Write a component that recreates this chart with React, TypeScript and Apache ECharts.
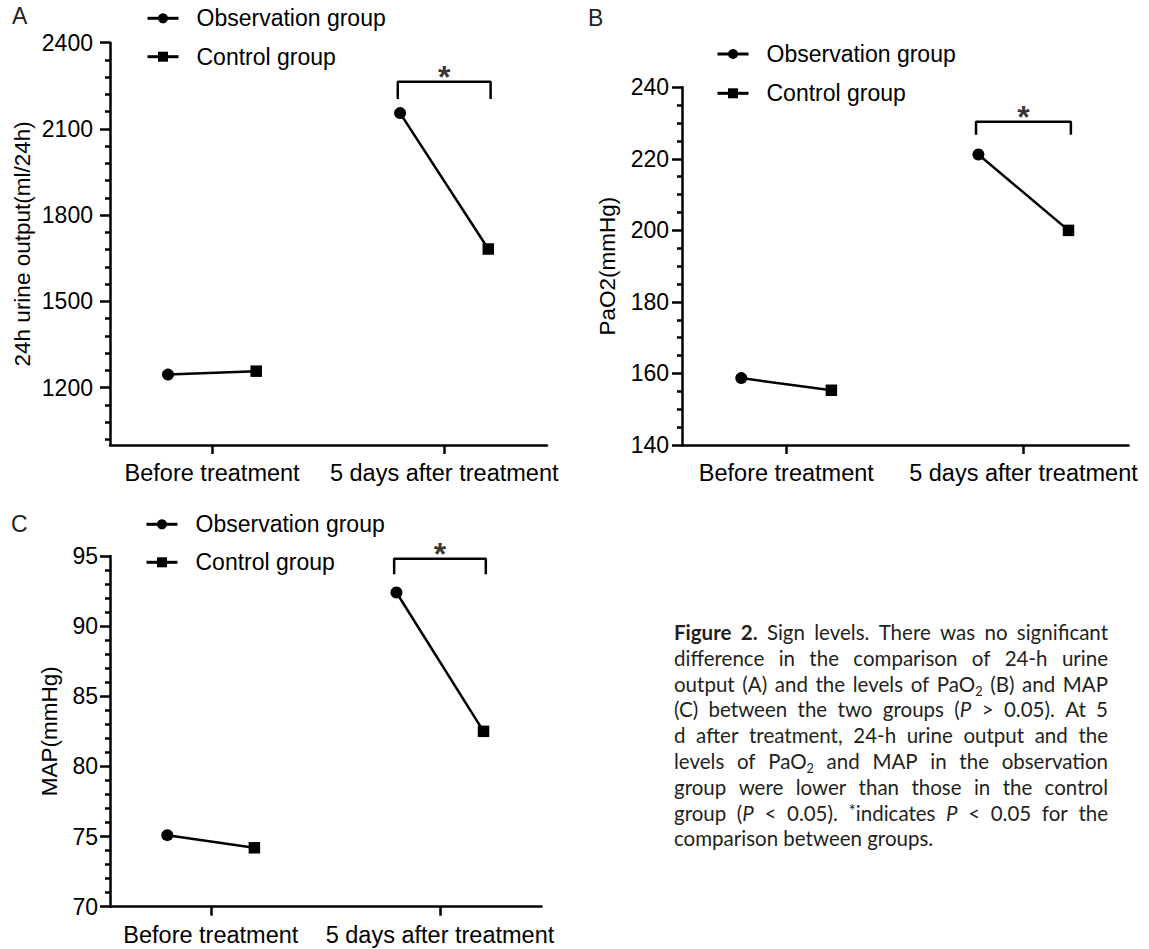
import React, { useEffect, useRef } from 'react';
import * as echarts from 'echarts';

// ---------- data ----------
const categories = ['Before treatment', '5 days after treatment'];
const seriesNames = ['Observation group', 'Control group'];

// Panel A: 24h urine output (ml/24h)
const urineObservation = [1245, 2155];
const urineControl = [1257, 1682];
const urineTicks = [1200, 1500, 1800, 2100, 2400];
const urineRange = [1000, 2400];
const urineMinorStep = 60;
const urineBracket = [2204, 2264];

// Panel B: PaO2 (mmHg)
const oxygenObservation = [158.7, 221.2];
const oxygenControl = [155.3, 200];
const oxygenTicks = [140, 160, 180, 200, 220, 240];
const oxygenRange = [140, 240];
const oxygenMinorStep = 5;
const oxygenBracket = [226.7, 230.4];

// Panel C: MAP (mmHg)
const mapObservation = [75.1, 92.4];
const mapControl = [74.2, 82.5];
const mapTicks = [70, 75, 80, 85, 90, 95];
const mapRange = [70, 95];
const mapMinorStep = 1;
const mapBracket = [93.7, 94.8];

const captionLines = [
  '**Figure** **2.** Sign levels. There was no significant',
  'difference in the comparison of 24-h urine',
  'output (A) and the levels of PaO~2~ (B) and MAP',
  '(C) between the two groups (_P_ > 0.05). At 5',
  'd after treatment, 24-h urine output and the',
  'levels of PaO~2~ and MAP in the observation',
  'group were lower than those in the control',
  'group (_P_ < 0.05). ^*^indicates _P_ < 0.05 for the',
  'comparison between groups.',
];

// ---------- layout / style ----------
const FONT = '"Liberation Sans", Arial, sans-serif';
const CAP_FONT = 'Lato';
const CAP_FS = 20.5;
const CAP_LEFT = 674;
const CAP_WIDTH = 434;
const CAP_TOP = 632;
const CAP_LH = 25.8;
const X_MIN = -0.44;
const X_MAX = 1.443;
const OFFSET = 0.19;
const BRACKET_HALF = 0.2;
const LW = 2.5;

const panels = [
  {
    letter: 'A', letterPos: [12, 4],
    grid: { left: 110, top: 42.7, width: 437, height: 402.3 },
    legend: { left: 146, top: 6.8, gap: 15.4 },
    yName: '24h urine output(ml/24h)', nameGap: 76, labelMargin: 17,
    obs: urineObservation, ctrl: urineControl, ticks: urineTicks, range: urineRange,
    minorStep: urineMinorStep, bracket: urineBracket,
  },
  {
    letter: 'B', letterPos: [588, 6],
    grid: { left: 682, top: 87.3, width: 446.5, height: 357.7 },
    legend: { left: 716, top: 42.5, gap: 16.3 },
    yName: 'PaO2(mmHg)', nameGap: 63.5, labelMargin: 13,
    obs: oxygenObservation, ctrl: oxygenControl, ticks: oxygenTicks, range: oxygenRange,
    minorStep: oxygenMinorStep, bracket: oxygenBracket,
  },
  {
    letter: 'C', letterPos: [11, 512.7],
    grid: { left: 110, top: 556, width: 431.5, height: 350.7 },
    legend: { left: 145, top: 512.8, gap: 15 },
    yName: 'MAP(mmHg)', nameGap: 49, labelMargin: 12,
    obs: mapObservation, ctrl: mapControl, ticks: mapTicks, range: mapRange,
    minorStep: mapMinorStep, bracket: mapBracket,
  },
];

function minorValues(range: number[], step: number, majors: number[]) {
  const out: number[] = [];
  const top = range[1];
  for (let k = 0; ; k++) {
    const v = +(top - k * step).toFixed(6);
    if (v <= range[0]) break;
    if (!majors.some((m) => Math.abs(m - v) < 1e-6)) out.push(v);
  }
  return out;
}

type Seg = { text: string; kind: 'n' | 'b' | 'i' | 'sub' | 'sup' };
function parseWord(w: string): Seg[] {
  return w
    .split(/(\*\*[^*]+\*\*|_[^_]+_|~[^~]+~|\^[^^]+\^)/)
    .filter((s) => s.length)
    .map((s) => {
      if (s.startsWith('**') && s.endsWith('**') && s.length > 4) return { text: s.slice(2, -2), kind: 'b' as const };
      if (s.startsWith('_') && s.endsWith('_') && s.length > 2) return { text: s.slice(1, -1), kind: 'i' as const };
      if (s.startsWith('~') && s.endsWith('~') && s.length > 2) return { text: s.slice(1, -1), kind: 'sub' as const };
      if (s.startsWith('^') && s.endsWith('^') && s.length > 2) return { text: s.slice(1, -1), kind: 'sup' as const };
      return { text: s, kind: 'n' as const };
    });
}

function segFont(g: Seg) {
  return {
    size: g.kind === 'sub' ? CAP_FS * 0.62 : g.kind === 'sup' ? CAP_FS * 0.85 : CAP_FS,
    weight: g.kind === 'b' ? 'bold' : 'normal',
    style: g.kind === 'i' ? 'italic' : 'normal',
  };
}

function buildCaption(): any[] {
  const canvas = document.createElement('canvas');
  const ctx = canvas.getContext('2d')!;
  const measure = (g: Seg) => {
    const f = segFont(g);
    ctx.font = `${f.style} ${f.weight} ${f.size}px ${CAP_FONT}`;
    return ctx.measureText(g.text).width;
  };
  ctx.font = `normal normal ${CAP_FS}px ${CAP_FONT}`;
  const spaceW = ctx.measureText(' ').width;
  const els: any[] = [];
  captionLines.forEach((line, li) => {
    const words = line.split(' ').map(parseWord);
    const widths = words.map((segs) => segs.reduce((s, g) => s + measure(g), 0));
    const total = widths.reduce((a, b) => a + b, 0);
    const last = li === captionLines.length - 1;
    const gap = last ? spaceW : Math.max(2, (CAP_WIDTH - total) / (words.length - 1));
    let x = CAP_LEFT;
    const y = CAP_TOP + li * CAP_LH;
    words.forEach((segs, wi) => {
      let sx = x;
      segs.forEach((g) => {
        const f = segFont(g);
        const dy = g.kind === 'sub' ? CAP_FS * 0.35 : g.kind === 'sup' ? -CAP_FS * 0.12 : 0;
        els.push({
          type: 'text',
          x: sx,
          y: y + dy,
          silent: true,
          style: {
            text: g.text,
            fontSize: f.size,
            fontWeight: f.weight,
            fontStyle: f.style,
            fontFamily: CAP_FONT,
            fill: '#231f20',
            align: 'left',
            verticalAlign: 'middle',
            textAlign: 'left',
            textVerticalAlign: 'middle',
          },
        });
        sx += measure(g);
      });
      x += widths[wi] + gap;
    });
  });
  return els;
}

function buildOption(): any {
  const grid: any[] = [];
  const xAxis: any[] = [];
  const yAxis: any[] = [];
  const legend: any[] = [];
  const series: any[] = [];
  const graphic: any[] = [];
  const axisLineStyle = { color: '#000', width: LW };

  panels.forEach((p, i) => {
    grid.push({ ...p.grid, containLabel: false, outerBoundsMode: 'none' });
    xAxis.push({
      type: 'value', gridIndex: i, min: X_MIN, max: X_MAX,
      splitLine: { show: false },
      axisLine: { show: true, onZero: false, lineStyle: axisLineStyle },
      axisTick: { show: true, customValues: [0, 1], length: 9, lineStyle: axisLineStyle },
      axisLabel: {
        customValues: [0, 1],
        formatter: (v: number) => categories[Math.round(v)],
        fontSize: 23.5, color: '#000', fontFamily: FONT, margin: 16,
      },
    });
    const minors = minorValues(p.range, p.minorStep, p.ticks);
    yAxis.push({
      type: 'value', gridIndex: i, position: 'left', min: p.range[0], max: p.range[1],
      name: p.yName, nameLocation: 'middle', nameGap: p.nameGap,
      nameTextStyle: { fontSize: 22.5, color: '#000', fontFamily: FONT },
      splitLine: { show: false },
      axisLine: { show: true, onZero: false, lineStyle: axisLineStyle },
      axisTick: { show: true, customValues: p.ticks, length: 10, lineStyle: axisLineStyle },
      axisLabel: {
        customValues: p.ticks, fontSize: 23, color: '#000', fontFamily: FONT, margin: p.labelMargin,
        formatter: (v: number) => String(v),
      },
    });
    yAxis.push({
      type: 'value', gridIndex: i, position: 'left', offset: 0, min: p.range[0], max: p.range[1],
      splitLine: { show: false },
      axisLine: { show: false, onZero: false },
      axisTick: { show: true, customValues: minors, length: 5, lineStyle: axisLineStyle },
      axisLabel: { show: false, customValues: minors },
    });
    legend.push({
      data: seriesNames, orient: 'vertical', left: p.legend.left, top: p.legend.top,
      itemGap: p.legend.gap, itemWidth: 31, itemHeight: 12.5, padding: 0,
      selectedMode: false,
      textStyle: { fontSize: 23, color: '#000', fontFamily: FONT, padding: [0, 0, 0, 13] },
      lineStyle: { color: '#000', width: LW + 0.5, opacity: 1 },
      itemStyle: { color: '#000' },
    });
    const xi = i, yi = 2 * i;
    categories.forEach((_, t) => {
      series.push({
        type: 'line', xAxisIndex: xi, yAxisIndex: yi, silent: true, symbol: 'none', z: 2,
        data: [[t - OFFSET, p.obs[t]], [t + OFFSET, p.ctrl[t]]],
        lineStyle: { color: '#000', width: LW },
      });
    });
    series.push({
      name: seriesNames[0], type: 'line', xAxisIndex: xi, yAxisIndex: yi, z: 3,
      data: p.obs.map((v, t) => [t - OFFSET, v]),
      symbol: 'circle', symbolSize: 12, showSymbol: true,
      itemStyle: { color: '#000' }, lineStyle: { opacity: 0, width: 0 },
    });
    series.push({
      name: seriesNames[1], type: 'line', xAxisIndex: xi, yAxisIndex: yi, z: 3,
      data: p.ctrl.map((v, t) => [t + OFFSET, v]),
      symbol: 'rect', symbolSize: 11.5, showSymbol: true,
      itemStyle: { color: '#000' }, lineStyle: { opacity: 0, width: 0 },
    });
    const [bot, top] = p.bracket;
    series.push({
      type: 'line', xAxisIndex: xi, yAxisIndex: yi, silent: true, symbol: 'none',
      data: [[1 - BRACKET_HALF, bot], [1 - BRACKET_HALF, top], [1 + BRACKET_HALF, top], [1 + BRACKET_HALF, bot]],
      lineStyle: { color: '#000', width: LW },
    });
    series.push({
      type: 'scatter', xAxisIndex: xi, yAxisIndex: yi, silent: true,
      data: [[1, top]], symbolSize: 1, itemStyle: { color: 'transparent' },
      label: {
        show: true, formatter: '*', position: 'inside', offset: [0, -5],
        fontSize: 32, fontWeight: 'bold', color: '#000', fontFamily: FONT,
      },
    });
    graphic.push({
      type: 'text', x: p.letterPos[0], y: p.letterPos[1], silent: true,
      style: { text: p.letter, fontSize: 23, fontFamily: FONT, fill: '#231f20', align: 'left', verticalAlign: 'top', textAlign: 'left', textVerticalAlign: 'top' },
    });
  });

  graphic.push(...buildCaption());

  return {
    animation: false,
    backgroundColor: '#fff',
    textStyle: { fontFamily: FONT },
    grid, xAxis, yAxis, legend, series, graphic,
  };
}

export default function App() {
  const ref = useRef<HTMLDivElement>(null);
  useEffect(() => {
    if (!ref.current) return;
    const chart = echarts.init(ref.current, undefined, { renderer: 'svg' });
    chart.setOption(buildOption());
    return () => chart.dispose();
  }, []);
  return (
    <div
      ref={ref}
      style={{ position: 'absolute', left: 0, top: 0, width: 1149, height: 949, background: '#fff' }}
    />
  );
}
